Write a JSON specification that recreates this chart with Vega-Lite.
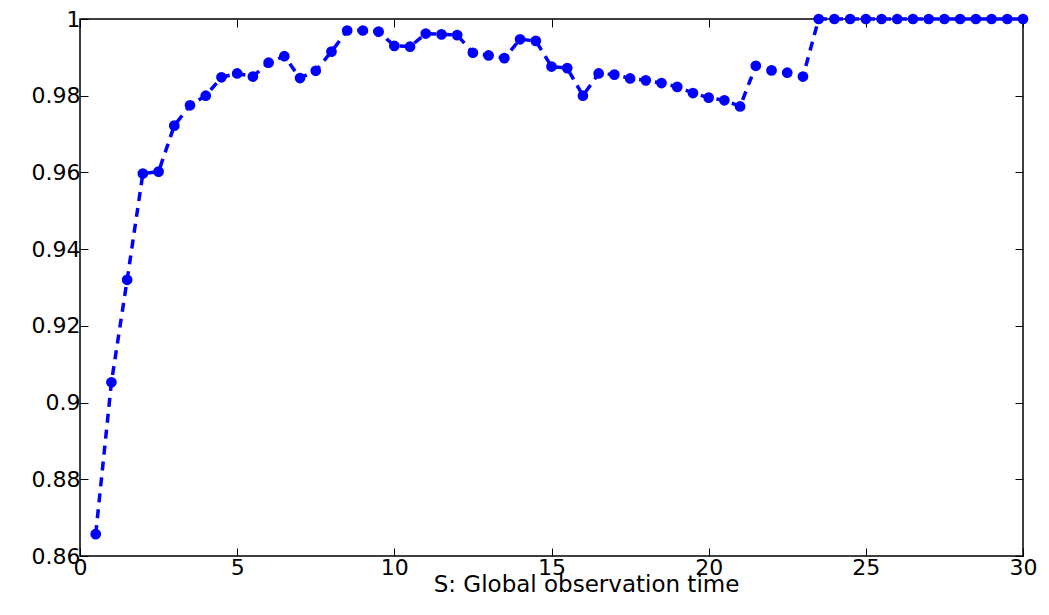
{
  "$schema": "https://vega.github.io/schema/vega-lite/v6.json",
  "width": 943,
  "height": 537,
  "autosize": "none",
  "padding": {"left": 80, "top": 19, "right": 26, "bottom": 59},
  "background": "white",
  "config": {
    "view": {"stroke": "black", "strokeWidth": 1.5},
    "font": "DejaVu Sans",
    "axis": {
      "grid": false,
      "domain": false,
      "tickColor": "black",
      "tickSize": -8,
      "tickWidth": 1,
      "labelFont": "DejaVu Sans",
      "labelFontSize": 22,
      "labelColor": "black",
      "titleFont": "DejaVu Sans",
      "titleFontSize": 23,
      "titleFontWeight": "normal",
      "titleColor": "black"
    }
  },
  "data": {
    "values": [
      {"t": 0.5, "v": 0.8657}, {"t": 1, "v": 0.9053}, {"t": 1.5, "v": 0.932}, {"t": 2, "v": 0.9597},
      {"t": 2.5, "v": 0.9602}, {"t": 3, "v": 0.9722}, {"t": 3.5, "v": 0.9775}, {"t": 4, "v": 0.98},
      {"t": 4.5, "v": 0.9848}, {"t": 5, "v": 0.9858}, {"t": 5.5, "v": 0.985}, {"t": 6, "v": 0.9886},
      {"t": 6.5, "v": 0.9903}, {"t": 7, "v": 0.9846}, {"t": 7.5, "v": 0.9865}, {"t": 8, "v": 0.9915},
      {"t": 8.5, "v": 0.997}, {"t": 9, "v": 0.997}, {"t": 9.5, "v": 0.9967}, {"t": 10, "v": 0.993},
      {"t": 10.5, "v": 0.9928}, {"t": 11, "v": 0.9962}, {"t": 11.5, "v": 0.996}, {"t": 12, "v": 0.9958},
      {"t": 12.5, "v": 0.9912}, {"t": 13, "v": 0.9905}, {"t": 13.5, "v": 0.9898}, {"t": 14, "v": 0.9947},
      {"t": 14.5, "v": 0.9943}, {"t": 15, "v": 0.9876}, {"t": 15.5, "v": 0.9872}, {"t": 16, "v": 0.980},
      {"t": 16.5, "v": 0.9858}, {"t": 17, "v": 0.9855}, {"t": 17.5, "v": 0.9845}, {"t": 18, "v": 0.984},
      {"t": 18.5, "v": 0.9833}, {"t": 19, "v": 0.9823}, {"t": 19.5, "v": 0.9807}, {"t": 20, "v": 0.9795},
      {"t": 20.5, "v": 0.9788}, {"t": 21, "v": 0.9772}, {"t": 21.5, "v": 0.9878}, {"t": 22, "v": 0.9866},
      {"t": 22.5, "v": 0.986}, {"t": 23, "v": 0.985}, {"t": 23.5, "v": 1}, {"t": 24, "v": 1},
      {"t": 24.5, "v": 1}, {"t": 25, "v": 1}, {"t": 25.5, "v": 1}, {"t": 26, "v": 1},
      {"t": 26.5, "v": 1}, {"t": 27, "v": 1}, {"t": 27.5, "v": 1}, {"t": 28, "v": 1},
      {"t": 28.5, "v": 1}, {"t": 29, "v": 1}, {"t": 29.5, "v": 1}, {"t": 30, "v": 1}
    ]
  },
  "layer": [
    {
      "mark": {"type": "line", "color": "#0000ff", "strokeWidth": 3.5, "strokeDash": [9, 7], "clip": false},
      "encoding": {
        "x": {"field": "t", "type": "quantitative", "scale": {"domain": [0, 30], "nice": false},
              "axis": {"values": [0, 5, 10, 15, 20, 25, 30], "title": "S: Global observation time", "labelPadding": 9, "titleX": 506, "titleY": 35, "titleAlign": "center", "titleBaseline": "alphabetic", "labelFlush": false}},
        "y": {"field": "v", "type": "quantitative", "scale": {"domain": [0.86, 1], "nice": false, "zero": false},
              "axis": {"values": [0.86, 0.88, 0.9, 0.92, 0.94, 0.96, 0.98, 1], "format": ".2~f", "title": null, "labelPadding": 8, "labelFlush": false}}
      }
    },
    {
      "mark": {"type": "point", "filled": true, "color": "#0000ff", "opacity": 1, "size": 115, "clip": false},
      "encoding": {
        "x": {"field": "t", "type": "quantitative", "axis": null},
        "y": {"field": "v", "type": "quantitative", "axis": null}
      }
    },
    {
      "mark": {"type": "point", "opacity": 0},
      "encoding": {
        "x": {"field": "t", "type": "quantitative",
              "axis": {"orient": "top", "values": [0, 5, 10, 15, 20, 25, 30], "labels": false, "title": null}},
        "y": {"field": "v", "type": "quantitative",
              "axis": {"orient": "right", "values": [0.86, 0.88, 0.9, 0.92, 0.94, 0.96, 0.98, 1], "labels": false, "title": null}}
      }
    }
  ],
  "resolve": {"axis": {"x": "independent", "y": "independent"}}
}
